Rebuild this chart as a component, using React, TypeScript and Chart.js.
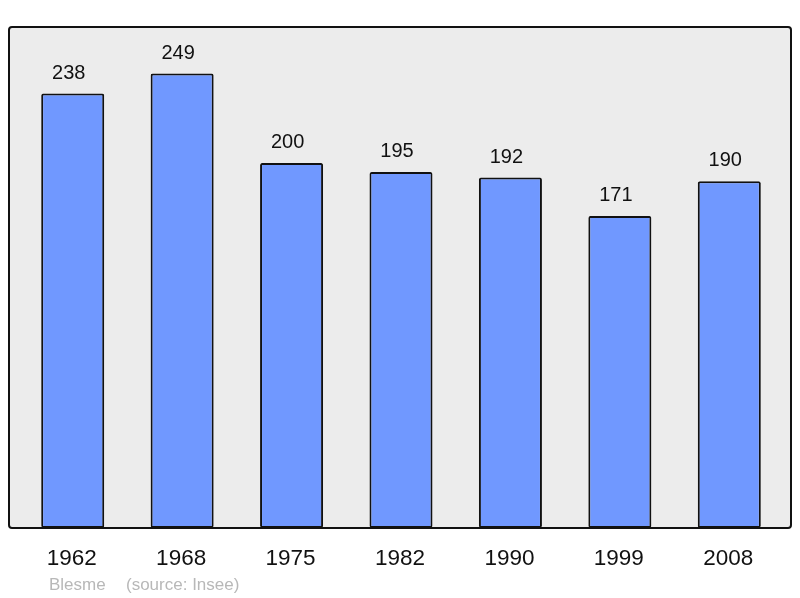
import React, { useEffect, useRef } from "react";
import { Chart, registerables } from "chart.js";

Chart.register(...registerables);

const years = ["1962", "1968", "1975", "1982", "1990", "1999", "2008"];
const population = [238, 249, 200, 195, 192, 171, 190];
const yMax = 274.5;
const footerPlace = "Blesme";
const footerSource = "(source: Insee)";

const FONT = "'Liberation Sans', Arial, sans-serif";

function roundRect(ctx: CanvasRenderingContext2D, x: number, y: number, w: number, h: number, r: number) {
  ctx.beginPath();
  ctx.moveTo(x + r, y);
  ctx.lineTo(x + w - r, y);
  ctx.quadraticCurveTo(x + w, y, x + w, y + r);
  ctx.lineTo(x + w, y + h - r);
  ctx.quadraticCurveTo(x + w, y + h, x + w - r, y + h);
  ctx.lineTo(x + r, y + h);
  ctx.quadraticCurveTo(x, y + h, x, y + h - r);
  ctx.lineTo(x, y + r);
  ctx.quadraticCurveTo(x, y, x + r, y);
  ctx.closePath();
}

const framePlugin = {
  id: "frame",
  beforeDraw(chart: any) {
    const { ctx, chartArea } = chart;
    const x0 = chartArea.left - 9;
    const x1 = chartArea.right + 7;
    ctx.save();
    ctx.fillStyle = "#ffffff";
    ctx.fillRect(0, 0, chart.width, chart.height);
    roundRect(ctx, x0, chartArea.top, x1 - x0, chartArea.bottom - chartArea.top, 3);
    ctx.fillStyle = "#ececec";
    ctx.fill();
    ctx.restore();
  },
  afterDatasetsDraw(chart: any) {
    const { ctx, chartArea, scales } = chart;
    const x0 = chartArea.left - 9;
    const x1 = chartArea.right + 7;
    ctx.save();
    roundRect(ctx, x0, chartArea.top, x1 - x0, chartArea.bottom - chartArea.top, 3);
    ctx.lineWidth = 2;
    ctx.strokeStyle = "#111111";
    ctx.stroke();

    // value labels
    const meta = chart.getDatasetMeta(0);
    ctx.fillStyle = "#111111";
    ctx.font = `20px ${FONT}`;
    ctx.textAlign = "center";
    ctx.textBaseline = "alphabetic";
    meta.data.forEach((bar: any, i: number) => {
      ctx.fillText(String(population[i]), bar.x - 4, bar.y - 15);
    });

    // category labels
    ctx.font = `22.5px ${FONT}`;
    years.forEach((y, i) => {
      ctx.fillText(y, scales.x.getPixelForValue(i) - 1, chartArea.bottom + 37);
    });

    // footer
    ctx.fillStyle = "#b8b8b8";
    ctx.font = `17px ${FONT}`;
    ctx.textAlign = "left";
    ctx.fillText(footerPlace, 49, chartArea.bottom + 62);
    ctx.fillText(footerSource, 126, chartArea.bottom + 62);
    ctx.restore();
  },
};

export default function App() {
  const ref = useRef<HTMLCanvasElement>(null);
  useEffect(() => {
    if (!ref.current) return;
    const chart = new Chart(ref.current, {
      type: "bar",
      data: {
        labels: years,
        datasets: [
          {
            data: population,
            backgroundColor: "#7098ff",
            borderColor: "#111111",
            borderWidth: 2,
            borderRadius: 2,
            borderSkipped: false,
            barPercentage: 0.576,
            categoryPercentage: 1,
          },
        ],
      },
      options: {
        animation: false,
        responsive: false,
        maintainAspectRatio: false,
        layout: { padding: { left: 18, right: 16, top: 27, bottom: 70 } },
        plugins: { legend: { display: false }, tooltip: { enabled: false }, title: { display: false } },
        scales: {
          x: { display: false },
          y: { display: false, min: 0, max: yMax },
        },
      },
      plugins: [framePlugin],
    });
    return () => chart.destroy();
  }, []);
  return (
    <div style={{ position: "fixed", left: 0, top: 0, width: 800, height: 598, background: "#fff" }}>
      <canvas ref={ref} width={800} height={598} style={{ width: 800, height: 598, display: "block" }} />
    </div>
  );
}
